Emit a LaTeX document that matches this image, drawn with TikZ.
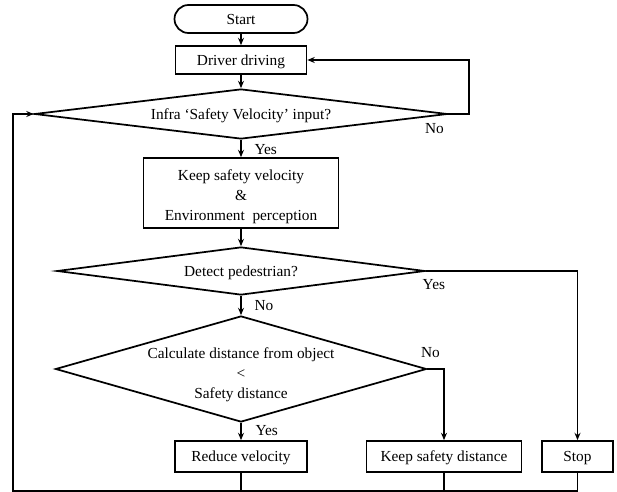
\documentclass[tikz,border=0pt]{standalone}
\usepackage{fontspec}
\setmainfont{Liberation Serif}
\usetikzlibrary{calc,shapes.geometric,arrows.meta}

\def\px{0.75pt}

\begin{document}
\begin{tikzpicture}[x=0.75pt,y=-0.75pt,
  every node/.style={font=\fontsize{11.5}{15}\selectfont},
  box/.style={draw,line width=1.3pt,inner sep=0pt,text depth=0pt,align=center},
  decision/.style={draw,diamond,line width=1.3pt,inner sep=-4pt,text depth=0pt,align=center},
  flow/.style={line width=1.3pt,-{Stealth[length=5.5pt,width=4.5pt]}},
  plain/.style={line width=1.3pt},
  lbl/.style={inner sep=1pt}]

  \useasboundingbox (0,0) rectangle (617,492);

  % main column
  \node[box,rounded corners=10.5pt,minimum width=133*\px,minimum height=28*\px] (start) at (241,19) {Start};
  \node[box,minimum width=131*\px,minimum height=28*\px] (driver) at (241,60) {Driver driving};
  \node[decision,aspect=8.26,minimum width=413*\px,minimum height=50*\px] (infra) at (241,114)
    {Infra ‘Safety Velocity’ input?};
  \node[box,minimum width=195*\px,minimum height=70*\px] (keep) at (241,193)
    {\rule{0pt}{11pt}Keep safety velocity\\ \&\\ Environment\ \ perception};
  \node[decision,aspect=7.67,minimum width=368*\px,minimum height=48*\px] (detect) at (241,271)
    {Detect pedestrian?};
  \node[decision,aspect=3.5,minimum width=371*\px,minimum height=106*\px] (dist) at (241,369)
    {\rule{0pt}{14pt}Calculate distance from object\\ <\\ Safety distance};

  % actions
  \node[box,minimum width=132*\px,minimum height=31*\px] (reduce) at (241,456.5) {Reduce velocity};
  \node[box,minimum width=155*\px,minimum height=31*\px] (keepdist) at (444,456.5) {Keep safety distance};
  \node[box,minimum width=71*\px,minimum height=31*\px] (stop) at (577.5,456.5) {Stop};

  % connectors
  \draw[flow] (start) -- (driver);
  \draw[flow] (driver) -- (infra);
  \coordinate (rloop) at (469,0);
  \draw[flow] (infra.east) -- (infra.east -| rloop) |- (driver.east);
  \draw[flow] (infra) -- (keep);
  \draw[flow] (keep) -- (detect);
  \draw[flow] (detect.east) -| (stop.north);
  \draw[flow] (detect) -- (dist);
  \draw[flow] (dist.east) -| (keepdist.north);
  \draw[flow] (dist) -- (reduce);

  % back to the infra check
  \coordinate (lloop) at (13,491);
  \draw[flow] (stop.south) |- (lloop) |- (infra.west);
  \draw[plain] (reduce.south) -- (reduce.south |- lloop);
  \draw[plain] (keepdist.south) -- (keepdist.south |- lloop);

  % branch labels
  \node[lbl] (no1) at ($(infra.east)+(-14,15)$) {No};
  \node[lbl,anchor=west] (yes1) at ($(infra.south)+(12,10)$) {Yes};
  \node[lbl] (yes2) at ($(detect.east)+(8,14)$) {Yes};
  \node[lbl,anchor=west] (no2) at ($(detect.south)+(12,10)$) {No};
  \node[lbl] (no3) at ($(dist.east)+(3,-16)$) {No};
  \node[lbl,anchor=west] (yes3) at ($(dist.south)+(13,8)$) {Yes};
\end{tikzpicture}
\end{document}
